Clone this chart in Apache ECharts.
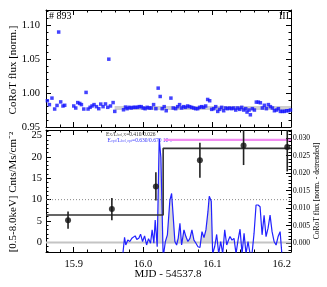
<!DOCTYPE html>
<html><head><meta charset="utf-8">
<script src="https://cdn.jsdelivr.net/npm/echarts@6/dist/echarts.min.js"></script>
<style>html,body{margin:0;padding:0;background:#fff}#c{width:327px;height:287px}</style>
</head><body><div id="c"></div>
<script>
// ---- Top panel: CoRoT normalized flux ----
const topX = [15.862,15.8649,15.8686,15.8725,15.8759,15.8783,15.8812,15.8845,15.8870,
  15.9000,15.9029,15.9058,15.9087,15.9111,15.9145,15.9178,15.9207,15.9236,15.9264,15.9293,15.9328,15.9361,15.9390,15.9423,15.9458,15.9491,15.9506,15.9530,15.9568,15.9592,
  15.9718,15.9747,15.9770,15.9799,15.9828,15.9857,15.9886,15.9915,15.9944,15.9973,
  16.0001,16.0030,16.0059,16.0088,16.0117,16.0152,16.0185,16.0218,16.0247,16.0276,16.0305,16.0334,
  16.0402,16.0435,16.0470,16.0499,16.0527,16.0556,16.0585,16.0614,16.0643,16.0672,16.0701,16.0730,16.0759,16.0788,16.0816,16.0845,16.0874,16.0903,16.0932,16.0961,16.0990,
  16.1019,16.1048,16.1077,16.1105,16.1134,16.1163,16.1192,16.1221,16.1250,16.1279,16.1308,16.1337,16.1366,16.1395,16.1423,16.1452,16.1481,16.1500,
  16.1529,16.1548,16.1577,16.1606,16.1634,16.1663,16.1692,16.1721,16.1750,16.1779,16.1808,16.1837,16.1866,16.1895,16.1924,16.1952,16.1981,16.2010,16.2039,16.2068,16.2097,16.2126];
const topY = [0.9887,0.983,0.9926,0.9765,0.9818,1.090,0.987,0.981,0.982,
  0.981,0.978,0.986,0.9847,0.983,0.9765,1.001,0.9765,0.979,0.981,0.983,0.980,0.977,0.9838,0.980,0.984,0.979,1.050,0.981,0.986,0.973,
  0.9754,0.9794,0.977,0.979,0.978,0.979,0.979,0.979,0.980,0.980,
  0.978,0.977,0.979,0.978,0.978,0.983,0.977,1.0073,0.995,0.977,0.980,0.974,
  0.9926,0.978,0.977,0.980,0.983,0.978,0.980,0.979,0.981,0.980,0.979,0.978,0.977,0.977,0.979,0.980,0.979,0.981,0.9906,0.9887,0.976,
  0.977,0.980,0.973,0.976,0.979,0.974,0.978,0.977,0.978,0.977,0.978,0.975,0.978,0.976,0.979,0.975,0.977,0.972,
  0.975,0.968,0.977,0.975,0.9867,0.9867,0.9857,0.978,0.982,0.977,0.983,0.980,0.978,0.974,0.975,0.977,0.973,0.973,0.973,0.974,0.974,0.975];
const quiescentX = [15.959, 16.2134];
const quiescentY = [0.978, 0.978];

// ---- Bottom panel: X-ray count rates ----
const xrayX = [15.8918,15.955,16.0185,16.082,16.145,16.208];
const xrayY = [5.2,7.8,13.1,19.2,22.7,22.3];
const xrayErr = [2.0,2.6,3.3,4.1,4.6,5.7];
const stepX = [15.86,16.029,16.029,16.2134];
const stepY = [6.4,6.4,22.0,22.0];
const magentaX = [16.030,16.2134];
const magentaY = [24.0,24.0];

// ---- Bottom panel: detrended CoRoT flux (right axis) ----
const blueX = [15.9704,15.9733,15.9751,15.9780,15.9809,15.9838,15.9857,15.9886,15.9910,15.9939,15.9964,15.9993,
  16.0022,16.0051,16.0079,16.0108,16.0131,16.0156,16.0175,16.0204,16.0233,16.0257,16.0290,
  16.0322,16.0351,16.0387,16.0412,16.0435,16.0459,16.0484,16.0507,16.0532,16.0556,16.0590,16.0618,16.0647,16.0676,16.0705,16.0734,16.0763,16.0792,16.0821,16.0850,16.0879,16.0907,16.0936,16.0955,16.0984,
  16.1004,16.1033,16.1062,16.1091,16.1120,16.1149,16.1178,16.1207,16.1233,16.1254,16.1283,16.1312,16.1341,16.1370,16.1399,16.1428,16.1457,16.1485,16.1514,16.1543,16.1572,16.1601,16.1630,16.1659,16.1688,16.1717,16.1746,16.1774,16.1803,16.1832,16.1861,16.1890,16.1919,16.1948,16.1977,16.2006];
const blueY = [-0.004,0.0017,-0.0005,0.0009,0.0005,0.0014,0.0009,0.0021,0.0011,0.0014,0.0026,0.0005,
  0.0021,-0.0005,0.0013,0.0000,0.0038,0.0000,0.0066,-0.001,0.0298,0.0245,-0.004,
  0.0005,0.0024,0.0123,0.0142,0.0076,0.0005,-0.0005,0.0014,0.0057,-0.0005,0.0038,0.0019,0.0005,0.0014,0.0038,0.0009,0.0000,-0.001,-0.0012,0.0033,0.0016,0.0038,0.009,0.0134,0.012,
  -0.003,-0.001,0.0025,-0.003,0.0005,-0.003,0.0038,-0.0005,0.0009,0.0019,0.0009,0.0014,-0.003,0.0009,0.004,-0.003,0.0028,-0.003,0.0005,-0.003,-0.003,0.0028,0.0109,0.0109,0.0104,0.0024,0.008,0.0019,0.0043,0.008,0.0033,0.0005,-0.0005,0.0019,0.0033,-0.004];
const flareStart = 16.019, flareEnd = 16.101;

const xTickLabels = ['15.9','16.0','16.1','16.2'];
const FONT = 'Liberation Serif';

const XMIN = 15.86, XMAX = 16.2134;
const chart = echarts.init(document.getElementById('c'), null, {renderer:'canvas'});

function xAx(grid, pos, labels) {
  return {type:'value', gridIndex:grid, position:pos, min:XMIN, max:XMAX,
    axisLine:{show:true, onZero:false, lineStyle:{color:'#000', width:1}},
    axisTick:{show:true, inside:true, length:5, lineStyle:{color:'#000'}},
    minorTick:{show:true, splitNumber:5, length:2.5, lineStyle:{color:'#000'}},
    splitLine:{show:false},
    axisLabel:{show:labels, showMinLabel:false, showMaxLabel:false, margin:7,
      fontFamily:FONT, fontSize:10.5, color:'#000',
      formatter: v => { const s = v.toFixed(1); return xTickLabels.indexOf(s) >= 0 ? s : ''; }}};
}
function yAx(grid, pos, min, max, opts) {
  return Object.assign({type:'value', gridIndex:grid, position:pos, min:min, max:max,
    axisLine:{show:true, onZero:false, lineStyle:{color:'#000', width:1}},
    axisTick:{show:true, inside:true, length:5, lineStyle:{color:'#000'}},
    minorTick:{show:true, splitNumber:5, length:2.5, lineStyle:{color:'#000'}},
    splitLine:{show:false},
    axisLabel:{show:false}}, opts || {});
}

const errData = xrayX.map((x,i)=>[x, xrayY[i]-xrayErr[i], xrayY[i]+xrayErr[i]]);
const fillData = blueX.map((x,i)=>[x, blueY[i]]).filter(d => d[0] >= flareStart && d[0] <= flareEnd).map(d => [d[0], Math.max(0, d[1])]);

const option = {
  animation:false,
  backgroundColor:'#fff',
  grid:[{left:46, right:36, top:10, height:117}, {left:46, right:36, top:130, height:122}],
  xAxis:[ xAx(0,'bottom',false), xAx(0,'top',false), xAx(1,'bottom',true), xAx(1,'top',false) ],
  yAxis:[
    yAx(0,'left',0.95,1.1225,{interval:0.05, axisLabel:{show:true, margin:6, fontFamily:FONT, fontSize:10.5, color:'#000', showMaxLabel:false, formatter:v=>v.toFixed(2)}}),
    yAx(0,'right',0.95,1.1225,{interval:0.05}),
    yAx(1,'left',-2.25,26.3,{axisLabel:{show:true, margin:4, fontFamily:FONT, fontSize:10.5, color:'#000', showMinLabel:false, showMaxLabel:false}}),
    yAx(1,'right',-0.0025,0.0323,{axisLabel:{show:true, margin:2, fontFamily:FONT, fontSize:7.5, color:'#000', showMinLabel:false, showMaxLabel:false, formatter:v=>v.toFixed(3)}})
  ],
  series:[
    {type:'line', xAxisIndex:0, yAxisIndex:0, data:quiescentX.map((x,i)=>[x,quiescentY[i]]), symbol:'none', lineStyle:{color:'#cfcfcf', width:4}, z:1},
    {type:'scatter', xAxisIndex:0, yAxisIndex:0, data:topX.map((x,i)=>[x,topY[i]]), symbol:'rect', symbolSize:3.5, itemStyle:{color:'#1414ff'}, z:3},
    {type:'line', xAxisIndex:2, yAxisIndex:3, data:fillData, symbol:'none', color:'#d9d9d9', itemStyle:{color:'#d9d9d9'}, lineStyle:{width:0, color:'#d9d9d9', opacity:0}, areaStyle:{color:'#d9d9d9', opacity:1}, z:1},
    {type:'line', xAxisIndex:2, yAxisIndex:2, data:[[XMIN,0],[XMAX,0]], symbol:'none', lineStyle:{color:'#c4c4c4', width:2}, z:2},
    {type:'line', xAxisIndex:2, yAxisIndex:2, data:[[XMIN,10],[XMAX,10]], symbol:'none', lineStyle:{color:'#888', width:1, type:[1,2]}, z:2},
    {type:'line', xAxisIndex:2, yAxisIndex:3, data:blueX.map((x,i)=>[x,blueY[i]]), symbol:'none', clip:true, lineStyle:{color:'#2222ff', width:1.2}, z:3},
    {type:'line', xAxisIndex:2, yAxisIndex:2, data:stepX.map((x,i)=>[x,stepY[i]]), symbol:'none', lineStyle:{color:'#333', width:1.6}, z:4},
    {type:'line', xAxisIndex:2, yAxisIndex:2, data:magentaX.map((x,i)=>[x,magentaY[i]]), symbol:'none', lineStyle:{color:'#f28cf2', width:2.2}, z:4},
    {type:'custom', xAxisIndex:2, yAxisIndex:2, data:errData, clip:true, encode:{x:0, y:[1,2]}, z:5,
      renderItem:(params, api) => {
        const p1 = api.coord([api.value(0), api.value(1)]);
        const p2 = api.coord([api.value(0), api.value(2)]);
        return {type:'line', shape:{x1:p1[0], y1:p1[1], x2:p2[0], y2:p2[1]}, style:{stroke:'#222', lineWidth:1.6}};
      }},
    {type:'scatter', xAxisIndex:2, yAxisIndex:2, data:xrayX.map((x,i)=>[x,xrayY[i]]), symbol:'circle', symbolSize:6, itemStyle:{color:'#111'}, z:6}
  ],
  graphic:[
    {type:'text', left:49, top:11, style:{text:'# 893', font:'10px "Liberation Serif"', fill:'#000'}},
    {type:'text', right:38, top:11, style:{text:'III', font:'10px "Liberation Serif"', fill:'#000'}},
    {type:'text', x:13, y:70, rotation:Math.PI/2, style:{text:'CoRoT flux [norm.]', font:'11px "Liberation Serif"', fill:'#000', align:'center', verticalAlign:'middle'}},
    {type:'text', x:13, y:192, rotation:Math.PI/2, style:{text:'[0.5-8.0keV] Cnts/Ms/cm\u207B\u00B2', font:'11px "Liberation Serif"', fill:'#000', align:'center', verticalAlign:'middle'}},
    {type:'text', x:317, y:191, rotation:Math.PI/2, style:{text:'CoRoT flux [norm. - detrended]', font:'7.5px "Liberation Serif"', fill:'#000', align:'center', verticalAlign:'middle'}},
    {type:'text', x:168, y:274, style:{text:'MJD - 54537.8', font:'11px "Liberation Serif"', fill:'#000', align:'center', verticalAlign:'middle'}},
    {type:'text', x:106, y:134.5, style:{text:'{n|E}{s|X}{n|/L}{s|bol,X}{n|=0.410/0.026}', verticalAlign:'middle',
      rich:{n:{fontFamily:FONT, fontSize:5.5, fill:'#333'}, s:{fontFamily:FONT, fontSize:4, fill:'#666'}}}},
    {type:'text', x:107.5, y:140.5, style:{text:'{n|E}{s|opt}{n|/L}{s|bol,opt}{n|=0.630/0.670 10}{s|-5}', verticalAlign:'middle',
      rich:{n:{fontFamily:FONT, fontSize:5.5, fill:'#3333ff'}, s:{fontFamily:FONT, fontSize:4, fill:'#6666ff'}}}}
  ]
};
chart.setOption(option);
</script>
</body></html>
